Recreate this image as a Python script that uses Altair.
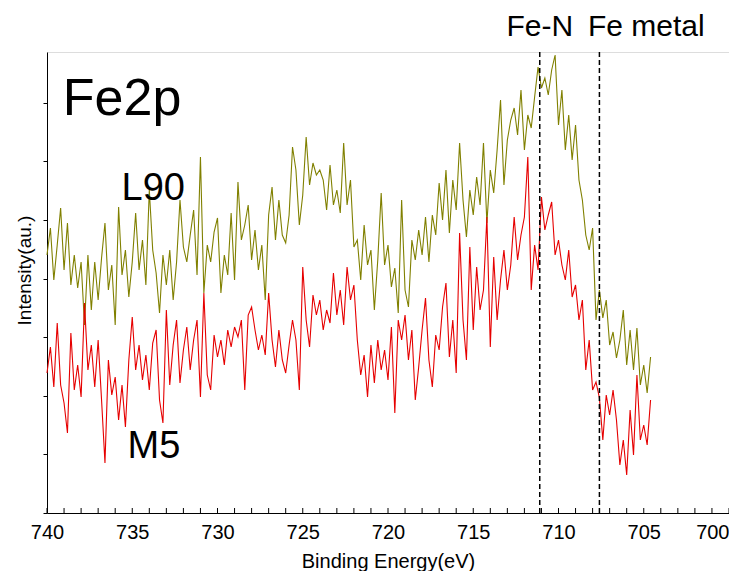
import altair as alt
import pandas as pd

# ---- data ----
energy_start = 740.0   # eV, first sample
energy_step = 0.2      # eV, sampling interval (decreasing binding energy)

# L90 spectrum (arbitrary intensity units)
l90 = [258, 285, 233, 268, 305, 243, 290, 228, 258, 225,
       251, 188, 258, 203, 251, 213, 255, 290, 223, 248,
       188, 306, 238, 263, 216, 251, 300, 243, 273, 228,
       323, 263, 240, 200, 258, 228, 263, 213, 251, 313,
       266, 251, 278, 303, 238, 356, 220, 268, 251, 281,
       295, 220, 258, 238, 300, 233, 331, 273, 288, 308,
       253, 283, 243, 268, 213, 298, 326, 273, 313, 278,
       270, 298, 366, 343, 288, 318, 376, 328, 350, 338,
       343, 333, 303, 348, 308, 323, 300, 370, 308, 333,
       266, 273, 233, 288, 248, 263, 203, 253, 320, 248,
       268, 226, 245, 200, 313, 223, 206, 273, 253, 283,
       258, 296, 251, 298, 278, 330, 293, 343, 280, 333,
       303, 370, 313, 276, 323, 298, 336, 308, 370, 290,
       343, 320, 363, 413, 328, 373, 393, 405, 378, 423,
       363, 398, 385, 416, 446, 425, 435, 418, 443, 458,
       388, 423, 363, 398, 353, 388, 333, 313, 278, 263,
       285, 193, 223, 195, 213, 168, 181, 155, 173, 203,
       148, 183, 143, 185, 128, 148, 120, 156]

# M5 spectrum (arbitrary intensity units)
m5 = [140, 166, 126, 190, 128, 110, 80, 180, 123, 148,
      116, 210, 143, 168, 126, 173, 113, 50, 153, 118,
      136, 93, 128, 86, 153, 196, 143, 168, 133, 158,
      123, 170, 183, 113, 90, 203, 128, 168, 193, 130,
      163, 186, 143, 173, 193, 116, 220, 138, 123, 178,
      156, 173, 148, 183, 166, 186, 176, 193, 123, 198,
      206, 183, 163, 178, 158, 220, 173, 146, 183, 153,
      140, 168, 193, 173, 123, 246, 193, 166, 218, 198,
      213, 183, 203, 190, 240, 198, 223, 188, 246, 213,
      228, 173, 138, 158, 116, 168, 130, 173, 143, 163,
      133, 186, 100, 193, 173, 198, 153, 183, 113, 146,
      183, 215, 153, 126, 178, 163, 206, 230, 156, 193,
      140, 280, 193, 153, 266, 183, 246, 203, 223, 296,
      166, 256, 193, 233, 263, 223, 248, 296, 253, 278,
      296, 356, 223, 268, 243, 316, 283, 298, 311, 258,
      273, 248, 233, 263, 216, 228, 193, 213, 143, 173,
      123, 131, 115, 73, 118, 98, 123, 93, 48, 73,
      38, 103, 58, 138, 73, 88, 68, 113]

series_names = ["L90", "M5"]
series_colors = ["#808000", "#e60000"]

ref_lines = [711.1, 707.6]            # Fe-N, Fe metal
ref_labels = ["Fe-N", "Fe metal"]
ref_label_x = [711.1, 704.85]
ref_label_y = [477, 477]

major_ticks = [740, 735, 730, 725, 720, 715, 710, 705, 700]
minor_ticks = list(range(700, 741))
y_ticks = [i * 29.3 for i in range(16)]

big_labels = ["Fe2p", "L90", "M5"]
big_label_x = [739.07, 735.63, 735.28]
big_label_y = [398, 313, 55]
big_label_size = [52, 38, 38]

# ---- tables ----
energy = [round(energy_start - energy_step * i, 1) for i in range(len(l90))]
rows = []
for name, vals in zip(series_names, [l90, m5]):
    for e, v in zip(energy, vals):
        rows.append({"energy": e, "intensity": v, "sample": name})
df = pd.DataFrame(rows)
df_ref = pd.DataFrame({"energy": ref_lines})
df_ref_lab = pd.DataFrame({"energy": ref_label_x, "y": ref_label_y, "label": ref_labels})
df_minor = pd.DataFrame({"energy": minor_ticks})
df_big = pd.DataFrame({"energy": big_label_x, "y": big_label_y,
                       "label": big_labels, "size": big_label_size})

FONT = "Liberation Sans"
W, H = 682, 461

xscale = alt.Scale(domain=[700, 740], reverse=True, nice=False, zero=False)
yscale = alt.Scale(domain=[0, 461], nice=False, zero=False)

xaxis = alt.Axis(values=major_ticks, format="d", ticks=False, tickSize=0,
                 labelPadding=9, labelFontSize=20, labelFont=FONT, labelColor="#000",
                 labelAlign=alt.expr("datum.value == 700 ? 'right' : 'center'"),
                 domainColor="#000", grid=False,
                 title="Binding Energy(eV)", titleFont=FONT, titleFontSize=20,
                 titleFontWeight="normal", titleColor="#000",
                 titleBaseline="alphabetic", titleY=54)
yaxis = alt.Axis(values=y_ticks, labels=False, tickSize=4, tickColor="#000",
                 domainColor="#000", grid=False,
                 title="Intensity(au.)", titleFont=FONT, titleFontSize=19,
                 titleFontWeight="normal", titleColor="#000",
                 titleAngle=-90, titleBaseline="alphabetic", titleAlign="center",
                 titleX=-17, titleY=218)

lines = alt.Chart(df).mark_line(strokeWidth=1.1, interpolate="linear").encode(
    x=alt.X("energy:Q", scale=xscale, axis=xaxis),
    y=alt.Y("intensity:Q", scale=yscale, axis=yaxis),
    color=alt.Color("sample:N", scale=alt.Scale(domain=series_names, range=series_colors),
                    legend=None),
    detail="sample:N",
)

rules = alt.Chart(df_ref).mark_rule(color="#000", strokeWidth=1.5, strokeDash=[5, 3]).encode(
    x=alt.X("energy:Q", scale=xscale),
)

minor = alt.Chart(df_minor).mark_rule(color="#000", strokeWidth=1).encode(
    x=alt.X("energy:Q", scale=xscale),
    y=alt.value(H),
    y2=alt.value(H - 5),
)

ref_text = alt.Chart(df_ref_lab).mark_text(font=FONT, fontSize=30, align="center",
                                           baseline="alphabetic", color="#000").encode(
    x=alt.X("energy:Q", scale=xscale),
    y=alt.Y("y:Q", scale=yscale),
    text="label:N",
)

big_text = alt.Chart(df_big).mark_text(font=FONT, align="left",
                                       baseline="alphabetic", color="#000").encode(
    x=alt.X("energy:Q", scale=xscale),
    y=alt.Y("y:Q", scale=yscale),
    text="label:N",
    size=alt.Size("size:Q", scale=None, legend=None),
)

chart = alt.layer(lines, rules, minor, ref_text, big_text).properties(
    width=W, height=H,
    padding={"left": 39, "top": 44, "right": 0, "bottom": 58},
    autosize=alt.AutoSizeParams(type="none"),
).configure_view(stroke="#000", strokeWidth=1).configure(background="white")

chart.save("out.html", embed_options={"renderer": "svg", "actions": False})
